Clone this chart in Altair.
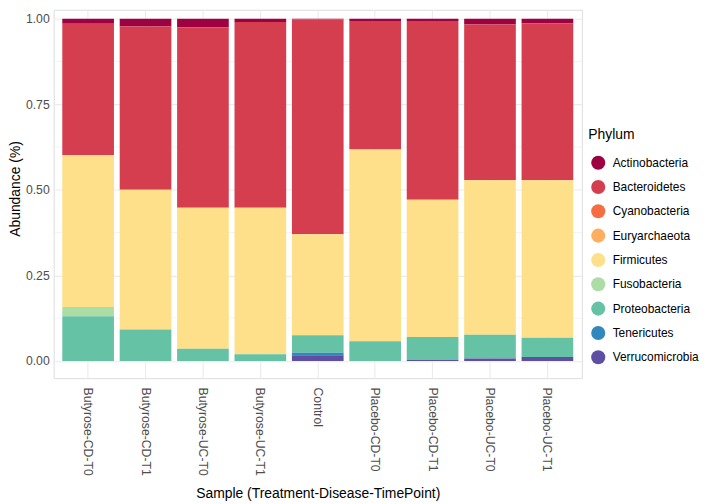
import altair as alt
import pandas as pd

samples = ["Butyrose-CD-T0", "Butyrose-CD-T1", "Butyrose-UC-T0", "Butyrose-UC-T1",
           "Control", "Placebo-CD-T0", "Placebo-CD-T1", "Placebo-UC-T0", "Placebo-UC-T1"]

phyla = ["Actinobacteria", "Bacteroidetes", "Cyanobacteria", "Euryarchaeota", "Firmicutes",
         "Fusobacteria", "Proteobacteria", "Tenericutes", "Verrucomicrobia"]

colors = ["#9E0142", "#D53E4F", "#F46D43", "#FDAE61", "#FEE08B",
          "#ABDDA4", "#66C2A5", "#3288BD", "#5E4FA2"]

actinobacteria = [0.015, 0.023, 0.025, 0.010, 0.002, 0.007, 0.007, 0.017, 0.014]
bacteroidetes = [0.384, 0.477, 0.527, 0.542, 0.628, 0.375, 0.522, 0.455, 0.458]
cyanobacteria = [0, 0, 0, 0, 0, 0, 0, 0, 0]
euryarchaeota = [0, 0, 0, 0, 0, 0, 0, 0, 0]
firmicutes = [0.443, 0.408, 0.412, 0.428, 0.295, 0.560, 0.401, 0.451, 0.460]
fusobacteria = [0.027, 0, 0, 0, 0, 0, 0, 0, 0]
proteobacteria = [0.131, 0.092, 0.036, 0.020, 0.051, 0.058, 0.067, 0.070, 0.056]
tenericutes = [0, 0, 0, 0, 0.007, 0, 0, 0, 0]
verrucomicrobia = [0, 0, 0, 0, 0.017, 0, 0.003, 0.007, 0.012]

y_ticks = [0, 0.25, 0.5, 0.75, 1.0]
y_minor = [0.125, 0.375, 0.625, 0.875]

series = [actinobacteria, bacteroidetes, cyanobacteria, euryarchaeota, firmicutes,
          fusobacteria, proteobacteria, tenericutes, verrucomicrobia]

rows = []
for rank, (ph, vals) in enumerate(zip(phyla, series)):
    for s, v in zip(samples, vals):
        if v > 0:
            rows.append({"Sample": s, "Phylum": ph, "Abundance": v, "rank": rank})
df = pd.DataFrame(rows)

FONT = "Liberation Sans"
ydom = [-0.05, 1.026]

bars = alt.Chart(df).mark_bar().encode(
    x=alt.X("Sample:N", sort=samples,
            scale=alt.Scale(paddingInner=0.1, paddingOuter=0.15),
            axis=alt.Axis(title="Sample (Treatment-Disease-TimePoint)",
                          labelAngle=90, labelAlign="left", labelBaseline="middle",
                          labelPadding=9, ticks=False, tickSize=0, domain=False,
                          grid=True, gridColor="#EBEBEB", gridWidth=1.1,
                          bandPosition=0.5,
                          labelFont=FONT, labelFontSize=12.3, labelColor="#4D4D4D",
                          titleFont=FONT, titleFontSize=14, titleFontWeight="normal",
                          titleColor="#000000", titleY=116, titleBaseline="middle")),
    y=alt.Y("Abundance:Q", stack="zero",
            scale=alt.Scale(domain=ydom, nice=False, zero=False),
            axis=alt.Axis(title="Abundance (%)", values=y_ticks, format=".2f",
                          ticks=False, tickSize=0, domain=False, labelPadding=4.5,
                          grid=True, gridColor="#EBEBEB", gridWidth=1.1,
                          labelFont=FONT, labelFontSize=12.3, labelColor="#4D4D4D",
                          titleFont=FONT, titleFontSize=14, titleFontWeight="normal",
                          titleColor="#000000", titleX=-38, titleY=180,
                          titleBaseline="middle")),
    color=alt.Color("Phylum:N",
                    scale=alt.Scale(domain=phyla, range=colors),
                    legend=alt.Legend(title="Phylum", orient="none",
                                      legendX=538.5, legendY=119,
                                      symbolType="circle", symbolSize=201,
                                      symbolStrokeWidth=0, symbolOpacity=1,
                                      symbolOffset=2.5, labelOffset=7,
                                      rowPadding=9.5, titlePadding=13.5,
                                      padding=0,
                                      labelFont=FONT, labelFontSize=12,
                                      labelColor="#000000", labelLimit=200,
                                      titleFont=FONT, titleFontSize=14,
                                      titleFontWeight="normal", titleColor="#000000")),
    order=alt.Order("rank:Q", sort="descending"),
)

minor = alt.Chart(pd.DataFrame({"v": y_minor})).mark_rule(
    color="#EBEBEB", strokeWidth=0.6
).encode(y=alt.Y("v:Q", scale=alt.Scale(domain=ydom, nice=False, zero=False)))

chart = alt.layer(minor, bars).properties(
    width=532, height=371,
    autosize=alt.AutoSizeParams(type="none"),
    padding={"left": 46, "top": 0, "right": 120, "bottom": 124},
).configure_view(strokeWidth=0).configure(background="white")

chart.save("out.html", embed_options={"renderer": "svg", "actions": False})
